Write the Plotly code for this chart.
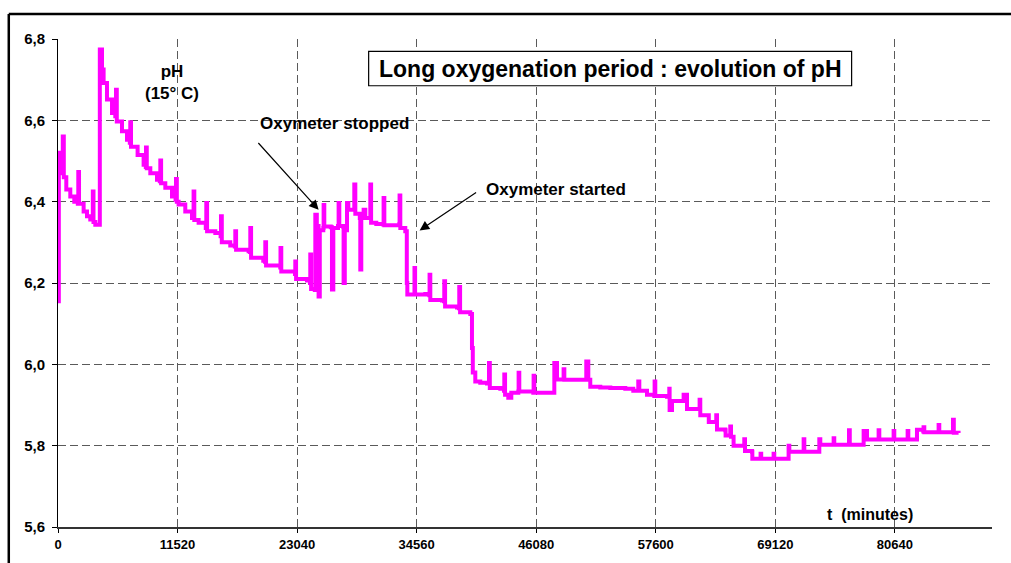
"""Long oxygenation period : evolution of pH"""
import plotly.graph_objects as go

# time (minutes) / pH readings taken off the original chart
T_MIN = [
    0, 80, 220, 460, 560, 800, 1185, 1570, 1910, 1955, 2025, 2470, 2795, 3110, 3355, 3420, 3595, 3980,
    4030, 4240, 4395, 4720, 5205, 5520, 5590, 5665, 6165, 6650, 6920, 6965, 7035, 7670, 8250, 8460,
    8480, 8555, 8895, 9540, 9810, 9860, 9935, 10340, 10985, 11330, 11370, 11450, 11620, 12265, 12910,
    13040, 13065, 13135, 13550, 14240, 14290, 14365, 15160, 15670, 15705, 15785, 16600, 17035, 17085,
    17160, 18365, 18500, 18530, 18605, 19780, 19945, 19975, 20050, 21420, 21440, 21515, 22835, 22865,
    22940, 23995, 24280, 24310, 24390, 24745, 24795, 24940, 25110, 25225, 25565, 25595, 25660, 26285,
    26400, 26530, 26980, 27040, 27105, 27490, 27520, 27635, 27850, 27975, 28505, 28550, 28650, 29080,
    29130, 29225, 29450, 29610, 30065, 30095, 30170, 30670, 31345, 31375, 31445, 32890, 32915, 32985,
    33465, 33610, 33660, 34315, 34350, 34410, 35395, 35780, 35805, 35875, 37000, 37195, 37220, 37300,
    38450, 38640, 38665, 38745, 39730, 39890, 39970, 40210, 40690, 41340, 41490, 41530, 41610, 42620,
    42975, 43005, 43080, 43390, 43680, 44355, 44385, 44450, 45800, 45830, 45895, 47795, 47825, 48085,
    48690, 48720, 48790, 50880, 50905, 51100, 51290, 52255, 53220, 54665, 55435, 55915, 56015, 56590,
    56755, 57460, 57490, 57555, 58680, 58905, 58935, 59165, 60255, 60285, 60610, 61650, 61825, 61890,
    62690, 62710, 63405, 63430, 63500, 64300, 64330, 64755, 64780, 64850, 65100, 66100, 66130, 66200,
    66875, 66905, 67675, 67700, 67760, 68925, 68955, 69020, 70370, 70400, 70470, 71820, 71850, 71915,
    73330, 73360, 73455, 74710, 74740, 74800, 76180, 76220, 76295, 77600, 77630, 77955, 79045, 79075,
    79140, 80490, 80520, 80585, 81840, 81870, 81935, 82510, 82770, 83380, 83405, 83475, 84825, 84855,
    84920, 86200, 86240, 86320, 86780,
]
PH = [
    6.155, 6.52, 6.47, 6.56, 6.46, 6.43, 6.413, 6.40, 6.395, 6.473, 6.395, 6.376, 6.364, 6.356, 6.425,
    6.35, 6.343, 6.343, 6.774, 6.725, 6.692, 6.651, 6.618, 6.61, 6.675, 6.597, 6.573, 6.552, 6.545,
    6.595, 6.535, 6.515, 6.491, 6.485, 6.533, 6.482, 6.47, 6.454, 6.45, 6.501, 6.445, 6.434, 6.413,
    6.405, 6.456, 6.40, 6.393, 6.376, 6.36, 6.36, 6.425, 6.355, 6.348, 6.335, 6.397, 6.327, 6.323,
    6.315, 6.364, 6.30, 6.292, 6.29, 6.327, 6.282, 6.278, 6.276, 6.335, 6.262, 6.255, 6.252, 6.30,
    6.243, 6.238, 6.286, 6.228, 6.222, 6.253, 6.21, 6.206, 6.20, 6.27, 6.185, 6.183, 6.368, 6.34,
    6.167, 6.33, 6.335, 6.392, 6.339, 6.337, 6.184, 6.335, 6.34, 6.397, 6.34, 6.338, 6.20, 6.33,
    6.397, 6.38, 6.38, 6.442, 6.37, 6.36, 6.233, 6.37, 6.38, 6.36, 6.36, 6.442, 6.348, 6.345, 6.344,
    6.409, 6.342, 6.345, 6.415, 6.335, 6.327, 6.20, 6.172, 6.172, 6.237, 6.172, 6.173, 6.17, 6.22,
    6.158, 6.157, 6.155, 6.204, 6.142, 6.14, 6.138, 6.19, 6.128, 6.124, 6.04, 5.98, 5.958, 5.955,
    5.953, 5.953, 6.003, 5.942, 5.94, 5.935, 5.975, 5.925, 5.918, 5.93, 5.933, 5.979, 5.933, 5.93,
    5.972, 5.93, 5.93, 6.003, 5.963, 5.963, 5.988, 5.962, 5.962, 6.007, 5.962, 5.945, 5.943, 5.942,
    5.94, 5.935, 5.958, 5.935, 5.935, 5.925, 5.922, 5.958, 5.922, 5.92, 5.94, 5.888, 5.91, 5.91,
    5.925, 5.89, 5.89, 5.913, 5.875, 5.875, 5.858, 5.858, 5.875, 5.84, 5.838, 5.825, 5.825, 5.847,
    5.822, 5.80, 5.80, 5.816, 5.787, 5.785, 5.768, 5.768, 5.78, 5.768, 5.768, 5.78, 5.768, 5.768,
    5.80, 5.785, 5.785, 5.816, 5.785, 5.785, 5.816, 5.802, 5.802, 5.818, 5.802, 5.802, 5.838, 5.802,
    5.802, 5.836, 5.815, 5.815, 5.838, 5.815, 5.815, 5.836, 5.815, 5.815, 5.836, 5.815, 5.815, 5.839,
    5.835, 5.845, 5.833, 5.833, 5.851, 5.833, 5.833, 5.864, 5.832, 5.831,
]

X_TICKS = [0, 11520, 23040, 34560, 46080, 57600, 69120, 80640]
X_TICK_TEXT = ["0", "11520", "23040", "34560", "46080", "57600", "69120", "80640"]
Y_TICKS = [5.6, 5.8, 6.0, 6.2, 6.4, 6.6, 6.8]

FONT = "Liberation Sans, Arial, sans-serif"
GRID = "#5a5a5a"

fig = go.Figure()

fig.add_trace(go.Scatter(
    x=T_MIN,
    y=PH,
    mode="lines",
    line=dict(color="#ff00ff", width=4, shape="hv"),
    showlegend=False,
    hovertemplate="t: %{x} min<br>pH: %{y}<extra></extra>",
))

fig.update_layout(
    width=1011,
    height=563,
    margin=dict(l=58, r=19, t=39, b=36, autoexpand=False),
    paper_bgcolor="white",
    plot_bgcolor="white",
    separators=",.",
    font=dict(family=FONT, color="black"),
    xaxis=dict(
        range=[0, 90000],
        tickmode="array",
        tickvals=X_TICKS,
        ticktext=X_TICK_TEXT,
        tickfont=dict(size=13, weight="bold"),
        ticks="outside",
        ticklen=4,
        tickcolor="black",
        ticklabelstandoff=1,
        showline=True,
        linecolor="#333333",
        linewidth=1.5,
        showgrid=True,
        gridcolor=GRID,
        gridwidth=1,
        griddash="8px,4px",
        zeroline=False,
    ),
    yaxis=dict(
        range=[5.6, 6.8],
        tickmode="array",
        tickvals=Y_TICKS,
        tickformat=".1f",
        tickfont=dict(size=15, weight="bold"),
        ticks="outside",
        ticklen=5,
        tickcolor="black",
        ticklabelstandoff=4,
        showline=True,
        linecolor="black",
        linewidth=1,
        showgrid=True,
        gridcolor=GRID,
        gridwidth=1,
        griddash="8px,4px",
        zeroline=False,
    ),
)

# outer chart frame (only top and left edges are in view)
fig.add_shape(type="line", xref="paper", yref="paper",
              x0=-0.0527, x1=1.06, y0=1.0513, y1=1.0513,
              line=dict(color="black", width=2.5))
fig.add_shape(type="line", xref="paper", yref="paper",
              x0=-0.0527, x1=-0.0527, y0=1.0513, y1=-0.1,
              line=dict(color="black", width=2.5))

# title box
fig.add_shape(type="rect", xref="paper", yref="paper",
              x0=0.3326, x1=0.8497, y0=0.9042, y1=0.9746,
              line=dict(color="black", width=1.2), fillcolor="white")
fig.add_annotation(xref="paper", yref="paper", x=0.5911, y=0.9393,
                   xanchor="center", yanchor="middle",
                   text="Long oxygenation period : evolution of pH",
                   showarrow=False, font=dict(size=23, weight="bold"))

fig.add_annotation(xref="paper", yref="paper", x=0.1221, y=0.9106,
                   xanchor="center", yanchor="middle",
                   text="pH<br>(15° C)", showarrow=False,
                   font=dict(size=17, weight="bold"))

fig.add_annotation(xref="paper", yref="paper", x=0.8694, y=0.0260,
                   xanchor="center", yanchor="middle",
                   text="t\u00a0 (minutes)", showarrow=False,
                   font=dict(size=16, weight="bold"))

# oxymeter notes
fig.add_annotation(x=26672, y=6.592, text="Oxymeter stopped", showarrow=False,
                   xanchor="center", yanchor="middle",
                   font=dict(size=17, weight="bold"))
fig.add_annotation(x=25111, y=6.380, ax=19176, ay=6.548, axref="x", ayref="y",
                   text="", showarrow=True, arrowhead=2, arrowsize=1.6,
                   arrowwidth=1.2, arrowcolor="black")

fig.add_annotation(x=48016, y=6.4295, text="Oxymeter started", showarrow=False,
                   xanchor="center", yanchor="middle",
                   font=dict(size=17, weight="bold"))
fig.add_annotation(x=34844, y=6.3294, ax=40433, ay=6.4253, axref="x", ayref="y",
                   text="", showarrow=True, arrowhead=2, arrowsize=1.6,
                   arrowwidth=1.2, arrowcolor="black")

# page body has a default 8px margin; drop it so the figure sits at the window origin
fig.write_html("out.html", config={"displayModeBar": False},
               post_script="document.body.style.margin='0';")
